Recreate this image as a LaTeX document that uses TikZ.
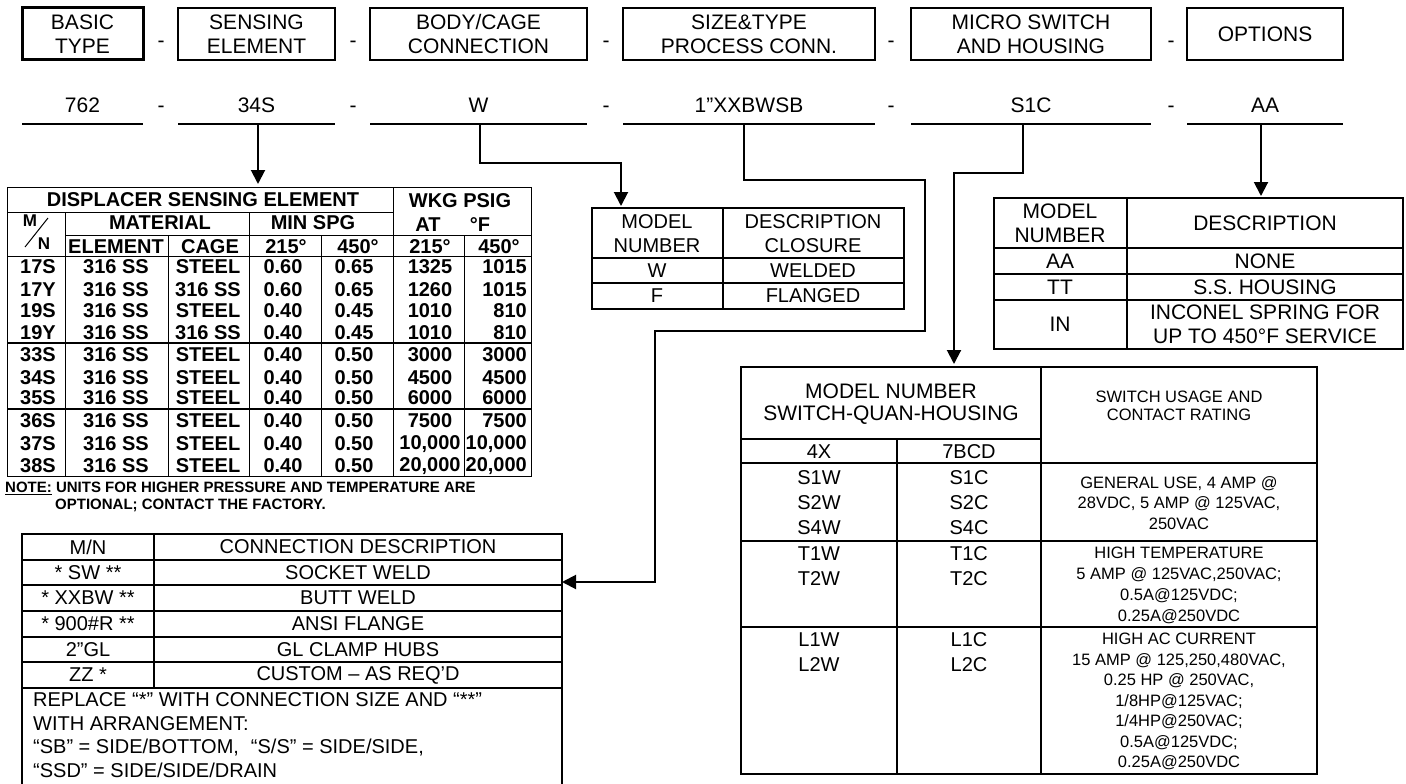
\documentclass[tikz,border=0pt]{standalone}
\usepackage{fontspec}
\setmainfont{Liberation Sans}
\usepackage{tikz}
\usetikzlibrary{arrows.meta, positioning}

\tikzset{
	headbox/.style={
			shape=rectangle,
			draw=black,
			line width=1.5pt,
			minimum height=52pt,
			inner sep=0pt,
			outer sep=0pt,
			align=center,
			font=\fontsize{21}{24}\selectfont
		},
	basicbox/.style={
			headbox,
			line width=3pt
		},
	valtext/.style={
			inner sep=0pt,
			font=\fontsize{21}{24}\selectfont
		},
	dashtext/.style={
			inner sep=0pt,
			font=\fontsize{21}{24}\selectfont
		},
	valline/.style={line width=2pt},
	tabbox/.style={
			shape=rectangle,
			draw=black,
			line width=2pt,
			inner sep=0pt,
			outer sep=0pt,
			anchor=north west
		},
	disptab/.style={
			tabbox,
			line width=1pt
		},
	thinrule/.style={line width=1pt},
	thickrule/.style={line width=2pt},
	disptext/.style={
			inner sep=0pt,
			font=\fontsize{20}{22}\selectfont\bfseries
		},
	celltext/.style={
			inner sep=0pt,
			align=center,
			font=\fontsize{20}{23.5}\selectfont
		},
	smalltext/.style={
			inner sep=0pt,
			align=center,
			font=\fontsize{16.5}{20.5}\selectfont
		},
	leader/.style={
			line width=2pt,
			-{Triangle[width=14pt,length=14pt]}
		}
}

\begin{document}
\begin{tikzpicture}[x=1pt, y=-1pt]
  \path[use as bounding box, fill=white] (0,0) rectangle (1406,784);

  % model code boxes
  \node[basicbox, minimum width=121pt] (hbasic) at (82.5,34) {BASIC\\TYPE};
  \node[headbox, minimum width=157pt] (hsens) at (256.5,34) {SENSING\\ELEMENT};
  \node[headbox, minimum width=217pt] (hbody) at (478.5,34) {BODY/CAGE\\CONNECTION};
  \node[headbox, minimum width=252pt] (hsize) at (749,34) {SIZE\&TYPE\\PROCESS CONN.};
  \node[headbox, minimum width=240pt] (hswitch) at (1031,34) {MICRO SWITCH\\AND HOUSING};
  \node[headbox, minimum width=156pt] (hopt) at (1265,34) {OPTIONS};

  \foreach \x/\n in {161/1, 353/2, 606/3, 891/4, 1171/5} {
    \node[dashtext] (hd\n) at (\x,44) {-};
    \node[dashtext] (vd\n) at (\x,109) {-};
  }

  % example code
  \node[valtext] (v1) at (82.5,105) {762};
  \node[valtext] (v2) at (256.5,105) {34S};
  \node[valtext] (v3) at (478.5,105) {W};
  \node[valtext] (v4) at (749,105) {1”XXBWSB};
  \node[valtext] (v5) at (1031,105) {S1C};
  \node[valtext] (v6) at (1265,105) {AA};

  \coordinate (l1) at (82.5,124);
  \coordinate (l2) at (258,124);
  \coordinate (l3) at (480,124);
  \coordinate (l4) at (744,124);
  \coordinate (l5) at (1023,124);
  \coordinate (l6) at (1261,124);

  \draw[valline] (hbasic.west |- l1) -- (hbasic.east |- l1);
  \draw[valline] (hsens.west |- l2) -- (hsens.east |- l2);
  \draw[valline] (hbody.west |- l3) -- (hbody.east |- l3);
  \draw[valline] (hsize.west |- l4) -- (hsize.east |- l4);
  \draw[valline] (hswitch.west |- l5) -- (hswitch.east |- l5);
  \draw[valline] (hopt.west |- l6) -- (hopt.east |- l6);

  % displacer table
  \node[disptab, minimum width=524pt, minimum height=289pt] (disp) at (7,187) {};
  \draw[thinrule] (7,212) -- (393,212);
  \draw[thinrule] (65,235) -- (531,235);
  \draw[thinrule] (7,256) -- (531,256);
  \draw[thickrule] (7,343) -- (531,343);
  \draw[thickrule] (7,409) -- (531,409);
  \draw[thinrule] (65,212) -- (65,476);
  \draw[thinrule] (168,235) -- (168,476);
  \draw[thinrule] (249,212) -- (249,476);
  \draw[thinrule] (321,235) -- (321,476);
  \draw[thinrule] (393,187) -- (393,476);
  \draw[thinrule] (464,235) -- (464,476);
  \draw[thinrule] (48,218) -- (25,247);

  \node[disptext] (dtitle) at (203,200) {DISPLACER SENSING ELEMENT};
  \node[disptext] (dwkg) at (460,201) {WKG PSIG};
  \node[disptext] (dmat) at (160,223) {MATERIAL};
  \node[disptext] (dspg) at (313,223) {MIN SPG};
  \node[disptext] (dat) at (428,225) {AT};
  \node[disptext] (ddeg) at (480,225) {°F};
  \node[disptext, font=\fontsize{17}{20}\selectfont\bfseries] (dm) at (30,221) {M};
  \node[disptext, font=\fontsize{17}{20}\selectfont\bfseries] (dn) at (44,244) {N};
  \node[disptext] (del) at (116,247) {ELEMENT};
  \node[disptext] (dcg) at (210,247) {CAGE};
  \node[disptext] (dsa) at (286,247) {215°};
  \node[disptext] (dsb) at (358,247) {450°};
  \node[disptext] (dpa) at (430,247) {215°};
  \node[disptext] (dpb) at (499,247) {450°};

  \foreach \y/\mn/\el/\cg/\sa/\sb/\pa/\pb in {
      267/17S/316 SS/STEEL/0.60/0.65/1325/1015,
      290/17Y/316 SS/316 SS/0.60/0.65/1260/1015,
      311/19S/316 SS/STEEL/0.40/0.45/1010/810,
      333/19Y/316 SS/316 SS/0.40/0.45/1010/810,
      355/33S/316 SS/STEEL/0.40/0.50/3000/3000,
      378/34S/316 SS/STEEL/0.40/0.50/4500/4500,
      398/35S/316 SS/STEEL/0.40/0.50/6000/6000,
      421/36S/316 SS/STEEL/0.40/0.50/7500/7500,
      444/37S/316 SS/STEEL/0.40/0.50/{10,000}/{10,000},
      466/38S/316 SS/STEEL/0.40/0.50/{20,000}/{20,000}} {
    \node[disptext] at (38,\y) {\mn};
    \node[disptext] at (116,\y) {\el};
    \node[disptext] at (208,\y) {\cg};
    \node[disptext] at (283,\y) {\sa};
    \node[disptext] at (354,\y) {\sb};
    \node[disptext] at (430,\y) {\pa};
    \node[disptext, anchor=east] at (527,\y) {\pb};
  }

  \node[disptext, anchor=west, font=\fontsize{15}{17}\selectfont\bfseries] (dnote1) at (5,488)
    {\underline{NOTE:} UNITS FOR HIGHER PRESSURE AND TEMPERATURE ARE};
  \node[disptext, anchor=west, font=\fontsize{15}{17}\selectfont\bfseries] (dnote2) at (55,505)
    {OPTIONAL; CONTACT THE FACTORY.};

  % closure table
  \node[tabbox, minimum width=312pt, minimum height=101pt] (mtab) at (592,208) {};
  \draw[thickrule] (592,258) -- (904,258);
  \draw[thickrule] (592,283) -- (904,283);
  \draw[thickrule] (723,208) -- (723,309);
  \node[celltext] (mhead1) at (657,233.5) {MODEL\\NUMBER};
  \node[celltext] (mhead2) at (813,233.5) {DESCRIPTION\\CLOSURE};
  \node[celltext] (mw) at (657,270.5) {W};
  \node[celltext] (mwd) at (813,270.5) {WELDED};
  \node[celltext] (mf) at (657,296) {F};
  \node[celltext] (mfd) at (813,296) {FLANGED};

  % options table
  \node[tabbox, minimum width=409pt, minimum height=151pt] (otab) at (994,198) {};
  \draw[thickrule] (994,248) -- (1403,248);
  \draw[thickrule] (994,274) -- (1403,274);
  \draw[thickrule] (994,300) -- (1403,300);
  \draw[thickrule] (1127,198) -- (1127,349);
  \node[celltext, font=\fontsize{21}{24}\selectfont] (ohead1) at (1060,223) {MODEL\\NUMBER};
  \node[celltext, font=\fontsize{21}{24}\selectfont] (ohead2) at (1265,223) {DESCRIPTION};
  \node[celltext, font=\fontsize{21}{24}\selectfont] (oaa) at (1060,261) {AA};
  \node[celltext, font=\fontsize{21}{24}\selectfont] (oaad) at (1265,261) {NONE};
  \node[celltext, font=\fontsize{21}{24}\selectfont] (ott) at (1060,287) {TT};
  \node[celltext, font=\fontsize{21}{24}\selectfont] (ottd) at (1265,287) {S.S. HOUSING};
  \node[celltext, font=\fontsize{21}{24}\selectfont] (oin) at (1060,324.5) {IN};
  \node[celltext, font=\fontsize{21}{24}\selectfont] (oind) at (1265,324.5) {INCONEL SPRING FOR\\UP TO 450°F SERVICE};

  % switch table
  \node[tabbox, minimum width=576pt, minimum height=407pt] (stab) at (741,367) {};
  \draw[thickrule] (741,439) -- (1041,439);
  \draw[thickrule] (741,463) -- (1317,463);
  \draw[thickrule] (741,541) -- (1317,541);
  \draw[thickrule] (741,627) -- (1317,627);
  \draw[thickrule] (897,439) -- (897,774);
  \draw[thickrule] (1041,367) -- (1041,774);
  \node[celltext, font=\fontsize{21}{22}\selectfont] (shead1) at (891,404) {MODEL NUMBER\\SWITCH-QUAN-HOUSING};
  \node[smalltext, font=\fontsize{16.5}{18}\selectfont] (shead2) at (1179,406) {SWITCH USAGE AND\\CONTACT RATING};
  \node[celltext] (s4x) at (819,452) {4X};
  \node[celltext] (s7b) at (969,452) {7BCD};
  \node[celltext, font=\fontsize{20}{25}\selectfont] (sgw) at (819,503) {S1W\\S2W\\S4W};
  \node[celltext, font=\fontsize{20}{25}\selectfont] (sgc) at (969,503) {S1C\\S2C\\S4C};
  \node[smalltext] (sgd) at (1179,503) {GENERAL USE, 4 AMP @\\28VDC, 5 AMP @ 125VAC,\\250VAC};
  \node[celltext, font=\fontsize{20}{25}\selectfont] (stw) at (819,566.5) {T1W\\T2W};
  \node[celltext, font=\fontsize{20}{25}\selectfont] (stc) at (969,566.5) {T1C\\T2C};
  \node[smalltext, font=\fontsize{16.5}{21}\selectfont] (std) at (1179,585.5)
    {HIGH TEMPERATURE\\5 AMP @ 125VAC,250VAC;\\0.5A@125VDC;\\0.25A@250VDC};
  \node[celltext, font=\fontsize{20}{25}\selectfont] (slw) at (819,652.5) {L1W\\L2W};
  \node[celltext, font=\fontsize{20}{25}\selectfont] (slc) at (969,652.5) {L1C\\L2C};
  \node[smalltext] (sld) at (1179,701.5)
    {HIGH AC CURRENT\\15 AMP @ 125,250,480VAC,\\0.25 HP @ 250VAC,\\1/8HP@125VAC;\\1/4HP@250VAC;\\0.5A@125VDC;\\0.25A@250VDC};

  % process connection table
  \node[tabbox, minimum width=540pt, minimum height=260pt] (ctab) at (22,534) {};
  \draw[thickrule] (22,560) -- (562,560);
  \draw[thickrule] (22,585) -- (562,585);
  \draw[thickrule] (22,611) -- (562,611);
  \draw[thickrule] (22,637) -- (562,637);
  \draw[thickrule] (22,662) -- (562,662);
  \draw[thickrule] (22,688) -- (562,688);
  \draw[thickrule] (154,534) -- (154,688);
  \node[celltext] (chead1) at (88,547) {M/N};
  \node[celltext] (chead2) at (358,547) {CONNECTION DESCRIPTION};
  \node[celltext] (csw) at (88,573) {* SW **};
  \node[celltext] (cswd) at (358,573) {SOCKET WELD};
  \node[celltext] (cbw) at (88,598) {* XXBW **};
  \node[celltext] (cbwd) at (358,598) {BUTT WELD};
  \node[celltext] (cfl) at (88,624) {* 900\#R **};
  \node[celltext] (cfld) at (358,624) {ANSI FLANGE};
  \node[celltext] (cgl) at (88,649.5) {2”GL};
  \node[celltext] (cgld) at (358,649.5) {GL CLAMP HUBS};
  \node[celltext] (czz) at (88,675) {ZZ *};
  \node[celltext] (czzd) at (358,675) {CUSTOM – AS REQ’D};
  \node[celltext, align=left, anchor=west, font=\fontsize{20}{23.7}\selectfont] (cnote) at (33,735)
    {REPLACE “*” WITH CONNECTION SIZE AND “**”\\WITH ARRANGEMENT:\\“SB” = SIDE/BOTTOM,\hspace{12pt}“S/S” = SIDE/SIDE,\\“SSD” = SIDE/SIDE/DRAIN};

  % leaders from the code to the tables
  \coordinate (k3) at (621,163);
  \coordinate (k4a) at (925,180);
  \coordinate (k4b) at (655,331);
  \coordinate (k4c) at (562,582);
  \coordinate (k5) at (954,173);

  \draw[leader] (l2) -- ([yshift=3pt]l2 |- disp.north);
  \draw[leader] (l3) |- (k3) -- ([yshift=2pt]k3 |- mtab.north);
  \draw[leader] (l4) |- (k4a) |- (k4b) |- (k4c);
  \draw[leader] (l5) |- (k5) -- ([yshift=3pt]k5 |- stab.north);
  \draw[leader] (l6) -- ([yshift=2pt]l6 |- otab.north);

\end{tikzpicture}
\end{document}
